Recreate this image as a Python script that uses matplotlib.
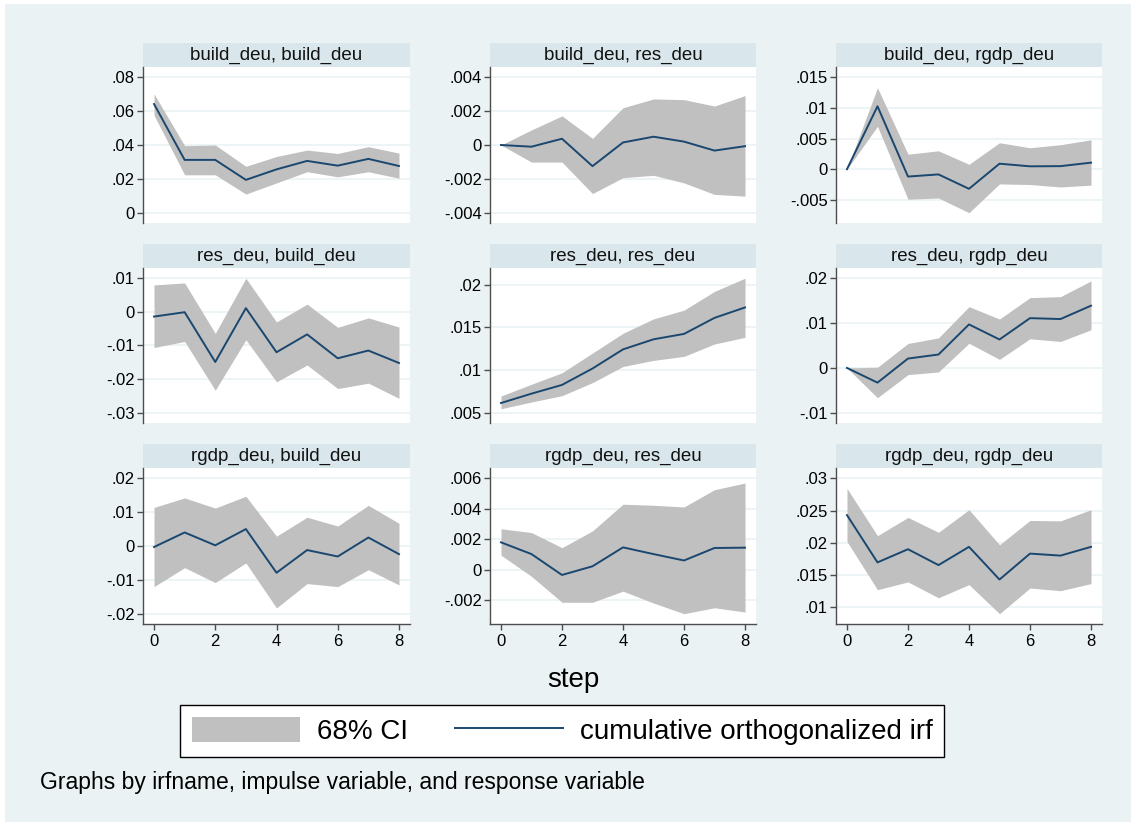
import matplotlib
matplotlib.use("Agg")
import matplotlib.pyplot as plt
from matplotlib.patches import Rectangle, Patch
from matplotlib.lines import Line2D

plt.rcParams['font.family'] = ['Liberation Sans', 'DejaVu Sans']

# steps of the cumulative orthogonalized irf
steps = [0, 1, 2, 3, 4, 5, 6, 7, 8]

# impulse build_deu
bb_irf = [0.0642, 0.0312, 0.0312, 0.0194, 0.0256, 0.0306, 0.0278, 0.0318, 0.0276]
bb_lo = [0.0576, 0.0224, 0.0224, 0.0110, 0.0176, 0.0242, 0.0212, 0.0242, 0.0204]
bb_hi = [0.0702, 0.0396, 0.0400, 0.0274, 0.0332, 0.0370, 0.0350, 0.0390, 0.0352]

br_irf = [0.0, -0.0001, 0.00037, -0.00125, 0.00015, 0.00049, 0.0002, -0.00033, -0.00007]
br_lo = [0.0, -0.00101, -0.00101, -0.00287, -0.00193, -0.00179, -0.00224, -0.00292, -0.00302]
br_hi = [0.0, 0.00089, 0.00172, 0.00039, 0.0022, 0.00272, 0.00268, 0.0023, 0.00292]

bg_irf = [0.0, 0.01027, -0.0012, -0.00085, -0.0032, 0.0009, 0.00047, 0.0005, 0.00107]
bg_lo = [0.0, 0.0070, -0.0049, -0.0047, -0.0071, -0.0024, -0.0025, -0.0029, -0.0026]
bg_hi = [0.0, 0.0133, 0.00245, 0.0030, 0.0008, 0.00432, 0.0035, 0.0040, 0.0048]

# impulse res_deu
rb_irf = [-0.0014, -0.0001, -0.0149, 0.0011, -0.0120, -0.0067, -0.0138, -0.0115, -0.0152]
rb_lo = [-0.0106, -0.0088, -0.0233, -0.0083, -0.0208, -0.0158, -0.0228, -0.0212, -0.0257]
rb_hi = [0.0080, 0.0086, -0.0064, 0.0100, -0.0030, 0.0023, -0.0046, -0.0018, -0.0045]

rr_irf = [0.00614, 0.00724, 0.00826, 0.01018, 0.01242, 0.0136, 0.01423, 0.01611, 0.01733]
rr_lo = [0.00547, 0.00626, 0.0070, 0.00853, 0.01042, 0.01113, 0.0116, 0.01305, 0.01383]
rr_hi = [0.00696, 0.00834, 0.00968, 0.01199, 0.0143, 0.01599, 0.01701, 0.01921, 0.02075]

rg_irf = [0.0, -0.00328, 0.00209, 0.00299, 0.0097, 0.00634, 0.0111, 0.0109, 0.01388]
rg_lo = [0.0, -0.00664, -0.0015, -0.0009, 0.0055, 0.0019, 0.0065, 0.0059, 0.0085]
rg_hi = [0.0, 0.00015, 0.00545, 0.0067, 0.01366, 0.0109, 0.01567, 0.0159, 0.0194]

# impulse rgdp_deu
gb_irf = [-0.0003, 0.0040, 0.0002, 0.0050, -0.0079, -0.0012, -0.0031, 0.0025, -0.0024]
gb_lo = [-0.0120, -0.0064, -0.0108, -0.0050, -0.0183, -0.0111, -0.0120, -0.0070, -0.0115]
gb_hi = [0.0114, 0.0142, 0.0112, 0.0147, 0.0029, 0.0085, 0.0059, 0.0120, 0.0067]

gr_irf = [0.0018, 0.00103, -0.00034, 0.00023, 0.00147, 0.00103, 0.00061, 0.00143, 0.00145]
gr_lo = [0.00096, -0.00043, -0.00213, -0.00213, -0.0014, -0.00218, -0.00288, -0.00249, -0.00277]
gr_hi = [0.00269, 0.00244, 0.00145, 0.00255, 0.0043, 0.00423, 0.00412, 0.00525, 0.00569]

gg_irf = [0.02429, 0.01696, 0.0190, 0.01654, 0.01937, 0.0143, 0.01832, 0.01801, 0.01937]
gg_lo = [0.0202, 0.01272, 0.01393, 0.01147, 0.01351, 0.0090, 0.01298, 0.01257, 0.01367]
gg_hi = [0.02843, 0.0211, 0.02393, 0.02162, 0.02513, 0.01969, 0.02346, 0.0234, 0.02513]

titles = ["build_deu, build_deu", "build_deu, res_deu", "build_deu, rgdp_deu",
          "res_deu, build_deu", "res_deu, res_deu", "res_deu, rgdp_deu",
          "rgdp_deu, build_deu", "rgdp_deu, res_deu", "rgdp_deu, rgdp_deu"]

yticks = [[0, .02, .04, .06, .08],
          [-.004, -.002, 0, .002, .004],
          [-.005, 0, .005, .01, .015],
          [-.03, -.02, -.01, 0, .01],
          [.005, .01, .015, .02],
          [-.01, 0, .01, .02],
          [-.02, -.01, 0, .01, .02],
          [-.002, 0, .002, .004, .006],
          [.01, .015, .02, .025, .03]]

xticks = [0, 2, 4, 6, 8]

panels = [(bb_irf, bb_lo, bb_hi), (br_irf, br_lo, br_hi), (bg_irf, bg_lo, bg_hi),
          (rb_irf, rb_lo, rb_hi), (rr_irf, rr_lo, rr_hi), (rg_irf, rg_lo, rg_hi),
          (gb_irf, gb_lo, gb_hi), (gr_irf, gr_lo, gr_hi), (gg_irf, gg_lo, gg_hi)]

BG = '#EAF2F3'
STRIP = '#D9E6EB'
BAND = '#C0C0C0'
LINE = '#1A476F'
AXC = '#4D4D4D'


def stata_fmt(v):
    s = '%g' % v
    if s.startswith('0.'):
        s = s[1:]
    elif s.startswith('-0.'):
        s = '-' + s[2:]
    return s


W, H = 1134, 825
fig = plt.figure(figsize=(W / 100, H / 100), dpi=100)
fig.patch.set_facecolor('white')
fig.add_artist(Rectangle((5 / W, 3 / H), 1126 / W, 818 / H, transform=fig.transFigure,
                         facecolor=BG, edgecolor='none', zorder=-10))

col_x = [(143, 410), (490, 756), (836, 1102)]
row_y = [(67, 223), (268, 423), (468, 624)]
strip_h = 24

for k, (irf, lo, hi) in enumerate(panels):
    r, c = divmod(k, 3)
    x0, x1 = col_x[c]
    y0, y1 = row_y[r]
    ax = fig.add_axes([x0 / W, 1 - y1 / H, (x1 - x0) / W, (y1 - y0) / H])
    ax.set_facecolor('white')

    ax.fill_between(steps, lo, hi, color=BAND, linewidth=0, zorder=2)
    ax.plot(steps, irf, color=LINE, lw=1.4, zorder=3)

    tk = yticks[k]
    ymin = min(min(lo), tk[0])
    ymax = max(max(hi), tk[-1])
    pad = (ymax - ymin) * 0.076
    ax.set_ylim(ymin - pad, ymax + pad)
    ax.set_xlim(-0.36, 8.36)
    ax.set_yticks(tk)
    ax.set_yticklabels([stata_fmt(v) for v in tk])
    for v in tk:
        ax.axhline(v, color=BG, lw=1.2, zorder=1)

    for side in ['top', 'right']:
        ax.spines[side].set_visible(False)
    ax.spines['left'].set_color(AXC)
    ax.spines['left'].set_linewidth(1)
    ax.tick_params(axis='y', direction='out', length=4, width=1, color=AXC,
                   labelsize=12, pad=2)
    if r == 2:
        ax.set_xticks(xticks)
        ax.spines['bottom'].set_color(AXC)
        ax.spines['bottom'].set_linewidth(1)
        ax.tick_params(axis='x', direction='out', length=4, width=1, color=AXC,
                       labelsize=12, pad=3)
    else:
        ax.spines['bottom'].set_visible(False)
        ax.set_xticks([])

    # strip with the panel title
    sh = strip_h / (y1 - y0)
    ax.add_patch(Rectangle((0, 1), 1, sh, transform=ax.transAxes, clip_on=False,
                           facecolor=STRIP, edgecolor='none'))
    ax.text(0.5, 1 + sh / 2, titles[k], transform=ax.transAxes, ha='center',
            va='center', fontsize=13.5, color='#111111')

fig.text(573 / W, 1 - 680 / H, 'step', ha='center', va='center', fontsize=20)

handles = [Patch(facecolor=BAND, edgecolor='none'),
           Line2D([0], [0], color=LINE, lw=1.4)]
leg = fig.legend(handles, ['68% CI', 'cumulative orthogonalized irf'],
                 loc='center left', bbox_to_anchor=(180 / W, 1 - 731 / H), ncol=2,
                 fontsize=20, frameon=True, fancybox=False, edgecolor='black',
                 framealpha=1, handlelength=3.9, handleheight=1.0,
                 handletextpad=0.6, columnspacing=1.7, borderpad=0.42,
                 borderaxespad=0)
leg.get_frame().set_linewidth(1)

fig.text(40 / W, 1 - 783 / H, 'Graphs by irfname, impulse variable, and response variable',
         ha='left', va='center', fontsize=16.5)

fig.savefig('out.png', dpi=100, facecolor=fig.get_facecolor())
